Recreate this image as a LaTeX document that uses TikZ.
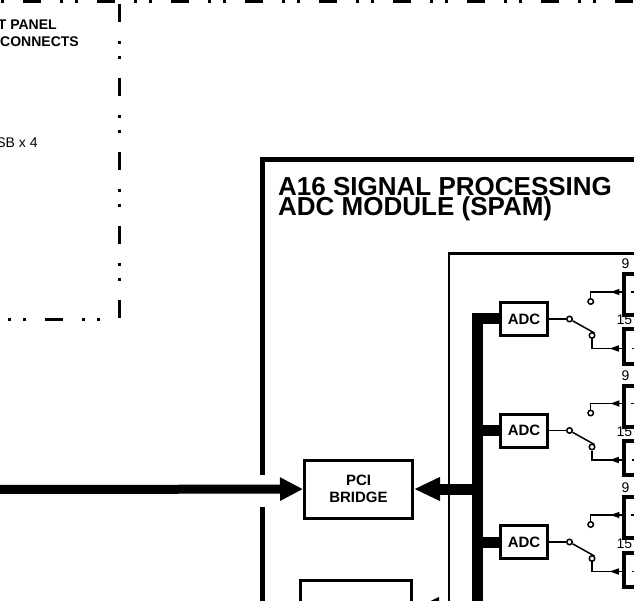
\documentclass[tikz,border=0pt]{standalone}
\usepackage{fontspec}
\setmainfont{Liberation Sans}
\usetikzlibrary{arrows.meta,positioning,decorations.markings}

\begin{document}
\begin{tikzpicture}[x=1pt,y=-1pt,
  every node/.style={inner sep=0pt},
  blk/.style={draw,line width=3pt,font=\fontsize{15}{17}\selectfont\bfseries,align=center},
  amp/.style={draw,line width=4pt,minimum width=40pt,anchor=north west},
  ctc/.style={circle,draw,line width=1.5pt,minimum size=5.5pt},
  lead/.style={line width=1.5pt},
  pin/.style={font=\fontsize{14}{14}\selectfont,anchor=base west},
  bus/.style={line width=11pt,line join=miter},
  fat/.style={-{Triangle[length=26pt,width=22pt]}},
  midtip/.style={postaction={decorate},decoration={markings,
    mark=at position #1 with {\arrow{Triangle[length=9pt,width=6pt]}}}},
  dashdot/.style={line width=3pt,dash pattern=on 18pt off 19pt on 3pt off 12pt on 3pt off 19pt}]
\clip (0,0) rectangle (634,601);
% front panel
\draw[dashdot] (-51,1.5) -- (700,1.5);
\draw[dashdot] (119,318) -- (119,-5);
\draw[dashdot,dash phase=18pt] (119,319.5) -- (-5,319.5);
\node[anchor=north west,align=left,font=\fontsize{14}{17}\selectfont\bfseries] (fp) at (-42,19.5) {FRONT PANEL\\INTERCONNECTS};
\node[anchor=base west,font=\fontsize{14}{17}\selectfont] (usb) at (-14,148) {USB x 4};
% A16 module
\draw[line width=5pt] (262.5,475) |- (700,159.5);
\draw[line width=5pt] (262.5,507) -- (262.5,700);
\node[anchor=north west,align=left,font=\fontsize{26}{20.5}\selectfont\bfseries] (title) at (278,177) {A16 SIGNAL PROCESSING\\ADC MODULE (SPAM)};
\draw[line width=2.5pt] (700,253.5) -| (449,700);
\node[blk,minimum width=108pt,minimum height=58pt] (pci) at (358.5,489) {PCI\\BRIDGE};
\node[blk,anchor=north,minimum width=111pt,minimum height=58pt] (lbox) at (356,578.5) {};
% adc channels
\foreach \i/\y in {1/319,2/430.5,3/542}{
  \node[blk,minimum width=47pt,minimum height=33pt] (adc\i) at (524,\y) {ADC};
  \node[ctc] (piv\i) at (569.5,\y) {};
  \node[ctc] (up\i) at (590.7,\y-17.5) {};
  \node[ctc] (dn\i) at (592,\y+16.5) {};
  \node[amp,minimum height=41pt] (ampA\i) at (622,\y-47) {};
  \node[amp,minimum height=34pt] (ampB\i) at (622,\y+8.5) {};
  \node[pin] at (621.5,\y-50) {9};
  \node[pin] at (616.5,\y+6) {15};
  \draw[lead] (adc\i) -- (piv\i);
  \draw[lead] (piv\i.-30) -- (dn\i.45);
  \draw[lead,midtip=0.31] ([yshift=2.5pt]ampA\i.west) -| (up\i);
  \draw[lead,midtip=0.31] ([yshift=-2pt]ampB\i.west) -| (dn\i);
  \draw[lead] ([xshift=8.5pt,yshift=2.5pt]ampA\i.west) -- ++(12,0);
  \draw[lead] ([xshift=9.5pt,yshift=-2pt]ampB\i.west) -- ++(12,0);
}
% bus
\coordinate (bustop) at (477.5,319);
\coordinate (busend) at (477.5,700);
\coordinate (inlet) at (-5,489.5);
\draw[bus] (adc1.west) -- (bustop) -- (busend);
\draw[bus] (bustop |- adc2) -- (adc2.west);
\draw[bus] (bustop |- adc3) -- (adc3.west);
\draw[bus,fat] (bustop |- pci) -- (pci);
\draw[bus,fat] (bustop |- lbox) -- (lbox);
\draw[line width=9pt,-{Triangle[length=23pt,width=22pt]}] (inlet) -- (pci);
\end{tikzpicture}
\end{document}
